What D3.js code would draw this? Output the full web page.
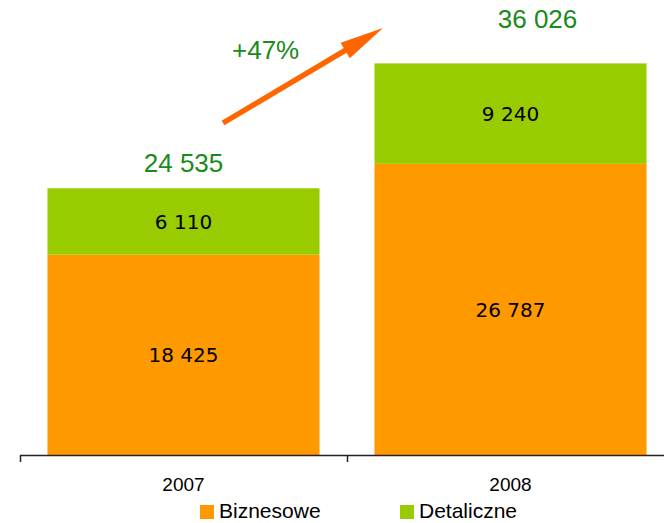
<!DOCTYPE html>
<html>
<head>
<meta charset="utf-8">
<script src="https://cdn.jsdelivr.net/npm/d3@7"></script>
<style>
  html, body { margin: 0; padding: 0; background: #fff; }
  svg { display: block; }
</style>
</head>
<body>
<div id="chart"></div>
<script>
// ---- Data ----
const years = ["2007", "2008"];
const biznesowe = [18425, 26787];
const detaliczne = [6110, 9240];
const totals = [24535, 36026];
const seriesNames = ["Biznesowe", "Detaliczne"];
const growthLabel = "+47%";

const colors = { Biznesowe: "#ff9900", Detaliczne: "#99cc00" };
const width = 664, height = 523;
const baseY = 455;

const fmt = v => d3.format(",")(v).replace(/,/g, " ");

const rows = years.map((y, i) => ({ year: y, Biznesowe: biznesowe[i], Detaliczne: detaliczne[i], total: totals[i] }));
const stacked = d3.stack().keys(seriesNames)(rows);

const svg = d3.select("#chart").append("svg")
    .attr("width", width)
    .attr("height", height);

const xScale = d3.scaleBand()
    .domain(years)
    .range([20, 674])
    .paddingInner(0.168)
    .paddingOuter(0.084);

const yScale = d3.scaleLinear()
    .domain([0, 40000])
    .range([baseY, baseY - 40000 * 0.01087]);

// bars
const layers = svg.append("g").selectAll("g")
    .data(stacked)
    .join("g")
    .attr("fill", d => colors[d.key]);

layers.selectAll("rect")
    .data(d => d)
    .join("rect")
    .attr("x", d => xScale(d.data.year))
    .attr("width", xScale.bandwidth())
    .attr("y", d => yScale(d[1]))
    .attr("height", d => yScale(d[0]) - yScale(d[1]));

// segment value labels
layers.selectAll("text")
    .data(d => d)
    .join("text")
    .attr("x", d => xScale(d.data.year) + xScale.bandwidth() / 2)
    .attr("y", d => (yScale(d[0]) + yScale(d[1])) / 2)
    .attr("dy", "0.37em")
    .attr("text-anchor", "middle")
    .attr("fill", "#000")
    .style("font-family", "'DejaVu Sans', Verdana, sans-serif")
    .style("font-size", "20px")
    .text(d => fmt(d[1] - d[0]));

// totals
const totalDx = [0, 27];
const totalDy = [16, 35];
svg.append("g").selectAll("text")
    .data(rows)
    .join("text")
    .attr("x", (d, i) => xScale(d.year) + xScale.bandwidth() / 2 + totalDx[i])
    .attr("y", (d, i) => yScale(d.Biznesowe + d.Detaliczne) - totalDy[i])
    .attr("text-anchor", "middle")
    .attr("fill", "#1a8a1a")
    .style("font-family", "'Liberation Sans', Arial, sans-serif")
    .style("font-size", "26px")
    .text(d => fmt(d.total));

// axis
const step = xScale.step();
const bounds = years.map(y => xScale(y) - (step - xScale.bandwidth()) / 2);
const axis = svg.append("g").attr("stroke", "#222").attr("stroke-width", 1.5);
axis.append("line")
    .attr("x1", 20).attr("x2", width)
    .attr("y1", baseY + 0.5).attr("y2", baseY + 0.5);
axis.selectAll(".tick")
    .data(bounds)
    .join("line")
    .attr("class", "tick")
    .attr("x1", d => d + 0.5).attr("x2", d => d + 0.5)
    .attr("y1", baseY).attr("y2", baseY + 7);

svg.append("g").selectAll("text")
    .data(years)
    .join("text")
    .attr("x", d => xScale(d) + xScale.bandwidth() / 2)
    .attr("y", 491)
    .attr("text-anchor", "middle")
    .attr("fill", "#000")
    .style("font-family", "'Liberation Sans', Arial, sans-serif")
    .style("font-size", "19px")
    .text(d => d);

// growth arrow
const x0 = 223, y0 = 123, x1 = 383, y1 = 28;
const ang = Math.atan2(y1 - y0, x1 - x0);
const headLen = 44, headHalf = 9;
const bx = x1 - headLen * Math.cos(ang), by = y1 - headLen * Math.sin(ang);
const nx = -Math.sin(ang), ny = Math.cos(ang);
svg.append("line")
    .attr("x1", x0).attr("y1", y0)
    .attr("x2", bx + 2 * Math.cos(ang)).attr("y2", by + 2 * Math.sin(ang))
    .attr("stroke", "#ff6600")
    .attr("stroke-width", 5.5);
svg.append("path")
    .attr("d", `M${x1},${y1}L${bx + nx * headHalf},${by + ny * headHalf}L${bx - nx * headHalf},${by - ny * headHalf}Z`)
    .attr("fill", "#ff6600");

svg.append("text")
    .attr("x", 232)
    .attr("y", 59)
    .attr("fill", "#1a8a1a")
    .style("font-family", "'Liberation Sans', Arial, sans-serif")
    .style("font-size", "26px")
    .text(growthLabel);

// legend
const legendX = [200, 400];
const legend = svg.append("g").selectAll("g")
    .data(seriesNames)
    .join("g")
    .attr("transform", (d, i) => `translate(${legendX[i]},505)`);
legend.append("rect")
    .attr("width", 14).attr("height", 14)
    .attr("fill", d => colors[d]);
legend.append("text")
    .attr("x", 19)
    .attr("y", 12.5)
    .attr("fill", "#000")
    .style("font-family", "'Liberation Sans', Arial, sans-serif")
    .style("font-size", "21px")
    .text(d => d);
</script>
</body>
</html>
